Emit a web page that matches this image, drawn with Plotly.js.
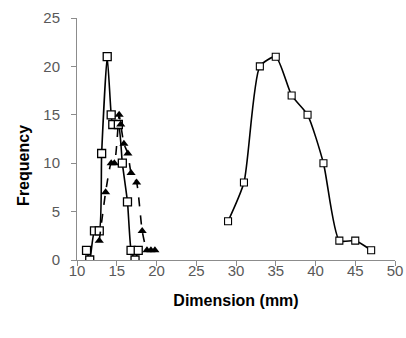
<!DOCTYPE html>
<html><head><meta charset="utf-8">
<script src="https://cdn.plot.ly/plotly-3.0.1.min.js"></script>
<style>html,body{margin:0;padding:0;background:#fff}#c{width:406px;height:338px}</style>
</head><body><div id="c"></div>
<script>
const smallSqX = [11.2, 11.6, 12.2, 12.8, 13.1, 13.8, 14.3, 14.5, 15.2, 15.7, 16.35, 16.8, 17.3, 17.7];
const smallSqY = [1, 0, 3, 3, 11, 21, 15, 14, 14, 10, 6, 1, 0, 1];
const triX = [12.8, 13.6, 14.3, 14.7, 15.3, 15.5, 15.9, 16.4, 16.8, 17.5, 18.2, 18.8, 19.3, 19.8];
const triY = [2, 7, 10, 10, 15, 14, 12, 11, 9, 8, 3, 1, 1, 1];
const largeX = [29, 31, 33, 35, 37, 39, 41, 43, 45, 47];
const largeY = [4, 8, 20, 21, 17, 15, 10, 2, 2, 1];
const xTicks = [10, 15, 20, 25, 30, 35, 40, 45, 50];
const yTicks = [0, 5, 10, 15, 20, 25];

const traces = [
  {x: smallSqX, y: smallSqY, mode: 'lines+markers', line: {color: '#000', width: 1.6, shape: 'spline', smoothing: 0.5},
   marker: {symbol: 'square', size: 8, color: '#fff', line: {width: 1.3, color: '#000'}}},
  {x: triX, y: triY, mode: 'lines+markers', line: {color: '#000', width: 1.6, dash: 'dash', shape: 'spline', smoothing: 0.5},
   marker: {symbol: 'triangle-up', size: 8, color: '#000'}},
  {x: largeX, y: largeY, mode: 'lines+markers', line: {color: '#000', width: 1.6, shape: 'spline', smoothing: 0.6},
   marker: {symbol: 'square', size: 7, color: '#fff', line: {width: 1.1, color: '#000'}}}
];
const fam = 'Liberation Sans, Arial, sans-serif';
const tickFont = {family: fam, size: 15, color: '#595959'};
const titleFont = {family: fam, size: 16, color: '#000', weight: 'bold'};
const layout = {
  width: 406, height: 338, showlegend: false,
  paper_bgcolor: '#fff', plot_bgcolor: '#fff',
  margin: {l: 77, r: 11, t: 18, b: 78},
  xaxis: {range: [10, 50], tickvals: xTicks, ticktext: xTicks.map(String), showgrid: false, zeroline: false,
          showline: true, linecolor: '#8c8c8c', linewidth: 1, ticks: 'outside', ticklen: 5, tickcolor: '#8c8c8c',
          ticklabelstandoff: -8, tickfont: tickFont, title: {text: 'Dimension (mm)', font: titleFont, standoff: 16}},
  yaxis: {range: [0, 25], tickvals: yTicks, ticktext: yTicks.map(String), showgrid: false, zeroline: false,
          showline: true, linecolor: '#8c8c8c', linewidth: 1, ticks: 'outside', ticklen: 5, tickcolor: '#8c8c8c',
          ticklabelstandoff: 8, tickfont: tickFont},
  annotations: [{text: 'Frequency', textangle: -90, xref: 'paper', yref: 'paper', x: -0.169, y: 0.39,
                 xanchor: 'center', yanchor: 'middle', showarrow: false, font: titleFont}]
};
Plotly.newPlot('c', traces, layout, {staticPlot: true, displayModeBar: false});
</script></body></html>
